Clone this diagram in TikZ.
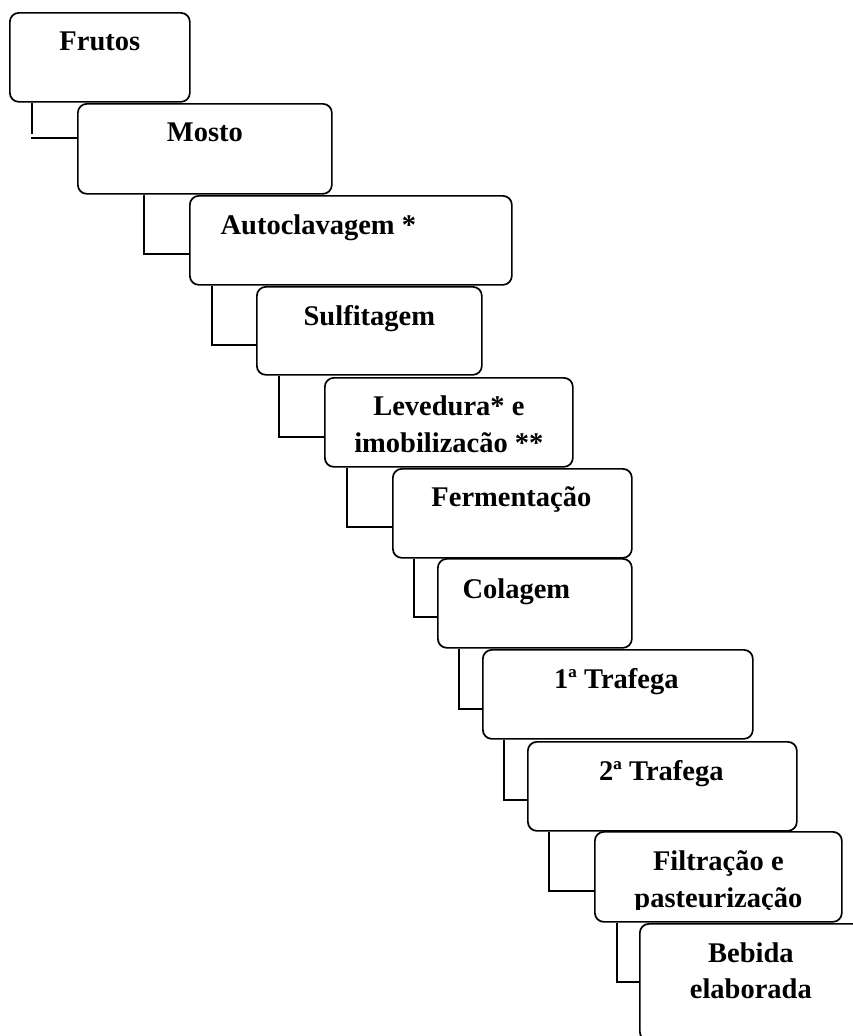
\documentclass[tikz,border=0pt]{standalone}
\usepackage{fontspec}
\setmainfont{Liberation Serif}
\usetikzlibrary{positioning,calc}
\tikzset{
  stepbox/.style={
    draw, fill=white, line width=1.7pt, rounded corners=9pt,
    anchor=north west, inner sep=0pt, minimum height=89pt
  },
  steptext/.style={
    anchor=north, inner sep=0pt, align=center,
    font=\fontsize{28.5}{36.5}\selectfont\bfseries
  },
  link/.style={line width=1.4pt}
}

\begin{document}
\begin{tikzpicture}[x=1pt,y=-1pt]
  \useasboundingbox (0,0) rectangle (853,1036);
  \clip (0,0) rectangle (853,1036);

  % process steps
  \node[stepbox, minimum width=180pt] (frutos) at (9,12) {};
  \node[stepbox, minimum width=254pt, minimum height=90pt] (mosto) at (77,103) {};
  \node[stepbox, minimum width=322pt] (autoc) at (189,195) {};
  \node[stepbox, minimum width=225pt, minimum height=88pt] (sulf) at (256,286) {};
  \node[stepbox, minimum width=248pt] (leved) at (324,377) {};
  \node[stepbox, minimum width=239pt] (ferm) at (392,468) {};
  \node[stepbox, minimum width=194pt] (colag) at (437,558) {};
  \node[stepbox, minimum width=270pt] (traf1) at (482,649) {};
  \node[stepbox, minimum width=269pt] (traf2) at (527,741) {};
  \node[stepbox, minimum width=247pt, minimum height=90pt] (filt) at (594,831) {};
  \node[stepbox, minimum width=222pt, minimum height=117pt] (bebida) at (639,923) {};

  % labels
  \node[steptext] (frutos-t) at ([yshift=-20pt]frutos.north) {Frutos};
  \node[steptext] (mosto-t) at ([yshift=-20pt]mosto.north) {Mosto};
  \node[steptext] (autoc-t) at ([xshift=-32.5pt,yshift=-19.5pt]autoc.north) {Autoclavagem *};
  \node[steptext] (sulf-t) at ([yshift=-19.5pt]sulf.north) {Sulfitagem};
  \node[steptext] (leved-t) at ([yshift=-19pt]leved.north) {Levedura* e\\imobilizacão **};
  \node[steptext] (ferm-t) at ([xshift=-1pt,yshift=-18pt]ferm.north) {Fermentação};
  \node[steptext] (colag-t) at ([xshift=-18.5pt,yshift=-20.5pt]colag.north) {Colagem};
  \node[steptext] (traf1-t) at ([xshift=-1.5pt,yshift=-19.5pt]traf1.north) {1ª Trafega};
  \node[steptext] (traf2-t) at ([xshift=-1pt,yshift=-19.5pt]traf2.north) {2ª Trafega};
  \begin{scope}
    \clip (filt.north west) rectangle ([yshift=13pt]filt.south east);
    \node[steptext] (filt-t) at ([yshift=-19.5pt]filt.north) {Filtração e\\pasteurização};
  \end{scope}
  \node[steptext] (bebida-t) at ([yshift=-19.5pt]bebida.north) {Bebida\\elaborada};

  % links
  \draw[link] ([xshift=23pt]frutos.south west) -- ++(0,31)
    ([yshift=-35pt]mosto.north west) -- ++(-46,0);
  \draw[link] ([xshift=67pt]mosto.south west) |- ([yshift=-59pt]autoc.north west);
  \draw[link] ([xshift=23pt]autoc.south west) |- ([yshift=-59pt]sulf.north west);
  \draw[link] ([xshift=23pt]sulf.south west) |- ([yshift=-60pt]leved.north west);
  \draw[link] ([xshift=23pt]leved.south west) |- ([yshift=-59pt]ferm.north west);
  \draw[link] ([xshift=22pt]ferm.south west) |- ([yshift=-59pt]colag.north west);
  \draw[link] ([xshift=22pt]colag.south west) |- ([yshift=-60pt]traf1.north west);
  \draw[link] ([xshift=22pt]traf1.south west) |- ([yshift=-59pt]traf2.north west);
  \draw[link] ([xshift=22pt]traf2.south west) |- ([yshift=-60pt]filt.north west);
  \draw[link] ([xshift=23pt]filt.south west) |- ([yshift=-59pt]bebida.north west);
\end{tikzpicture}
\end{document}
